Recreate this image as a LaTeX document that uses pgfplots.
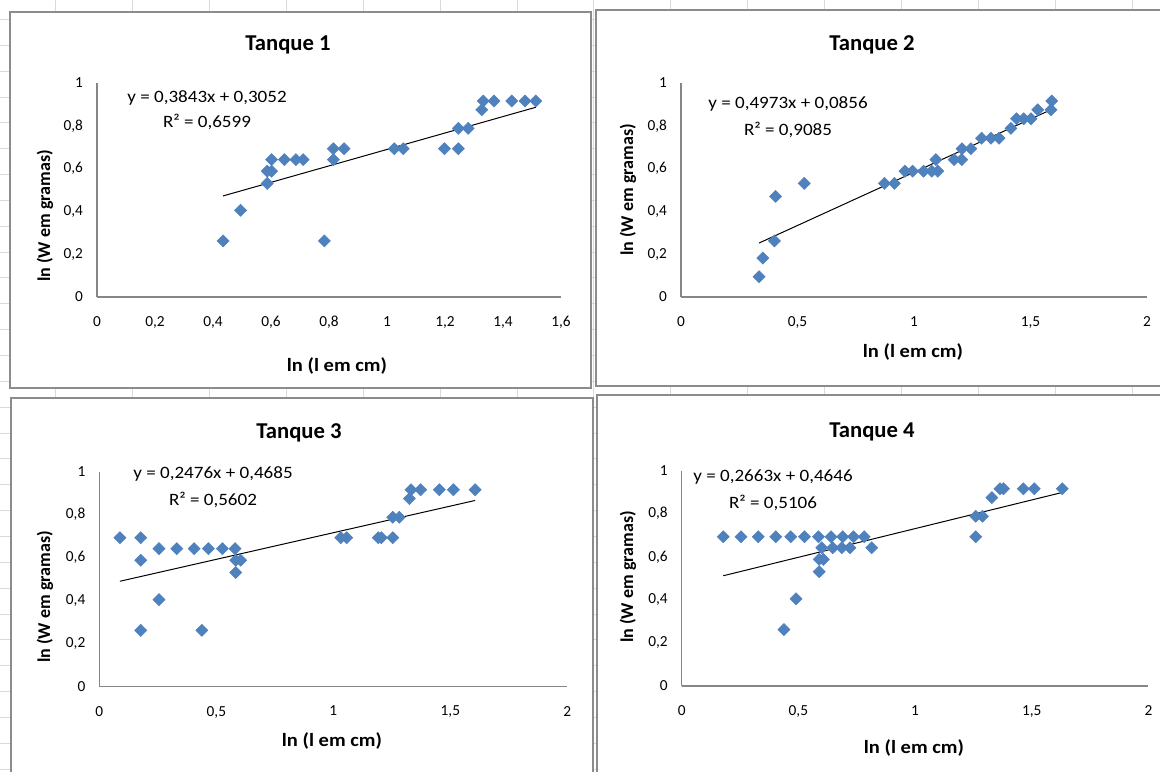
\documentclass[border=0pt]{standalone}
\usepackage{fontspec}
\setmainfont{Carlito}
\usepackage{pgfplots}
\pgfplotsset{compat=1.18}
\definecolor{ptblue}{HTML}{4F81BD}
\definecolor{axgray}{HTML}{868686}
\definecolor{framegray}{HTML}{8C8C8C}
\definecolor{cellgray}{HTML}{DADADA}

\pgfplotsset{
  tanque/.style={
    scale only axis,
    anchor=south west,
    xmin=0, ymin=0, ymax=1,
    ytick={0,0.2,0.4,0.6,0.8,1},
    axis x line*=bottom,
    axis y line*=left,
    axis line style={draw=axgray, line width=0.8pt, -},
    major tick length=0pt,
    tick label style={font=\fontsize{11.5}{13}\selectfont},
    xticklabel style={yshift=-11pt},
    yticklabel style={xshift=-7pt},
    /pgf/number format/use comma,
    /pgf/number format/assume math mode=true,
    clip=false,
  },
  pontos/.style={only marks, mark=square*, mark size=3.2pt,
    mark options={rotate=45, fill=ptblue, draw=ptblue}},
  tendencia/.style={black, line width=0.75pt, no marks},
}
\newcommand{\titulo}{\fontsize{17}{20}\selectfont\bfseries}
\newcommand{\rotulo}{\fontsize{14}{16}\selectfont\bfseries}
\newcommand{\rotuloy}{\fontsize{13.5}{16}\selectfont\bfseries}
\newcommand{\eq}{\fontsize{13}{15}\selectfont}

\begin{document}
\begin{tikzpicture}
\begin{scope}[x=0.75pt,y=-0.75pt]
\useasboundingbox (0,0) rectangle (1160,771);
\foreach \gx in {55.5,132.4,...,1160} \draw[cellgray, line width=0.5pt] (\gx,0) -- (\gx,771);
\foreach \gy in {19.3,45.15,...,771} \draw[cellgray, line width=0.5pt] (0,\gy) -- (1160,\gy);
\filldraw[fill=white, draw=framegray, line width=1.2pt] (10,12) rectangle (591,388);
\filldraw[fill=white, draw=framegray, line width=1.2pt] (596,10) rectangle (1165,386);
\filldraw[fill=white, draw=framegray, line width=1.2pt] (11,398) rectangle (593,776);
\filldraw[fill=white, draw=framegray, line width=1.2pt] (597,395) rectangle (1165,776);
\end{scope}

% Tanque 1
\begin{axis}[tanque, at={(72.75pt,-222.75pt)}, width=348pt, height=160.5pt,
  xmax=1.6, xtick={0,0.2,0.4,0.6,0.8,1,1.2,1.4,1.6}]
\addplot[pontos] coordinates {
 (0.435,0.262) (0.495,0.405) (0.587,0.531) (0.587,0.588) (0.602,0.588)
 (0.602,0.642) (0.646,0.642) (0.686,0.642) (0.711,0.642) (0.784,0.262)
 (0.815,0.642) (0.815,0.693) (0.852,0.693) (1.025,0.693) (1.056,0.693)
 (1.198,0.693) (1.246,0.693) (1.246,0.788) (1.280,0.788) (1.327,0.875)
 (1.332,0.916) (1.369,0.916) (1.430,0.916) (1.476,0.916) (1.513,0.916)
};
\addplot[tendencia] coordinates {(0.435,0.4724) (1.513,0.8866)};
\end{axis}

% Tanque 2
\begin{axis}[tanque, at={(510.75pt,-222.75pt)}, width=349.5pt, height=160.5pt,
  xmax=2, xtick={0,0.5,1,1.5,2}]
\addplot[pontos] coordinates {
 (0.335,0.095) (0.351,0.182) (0.401,0.262) (0.406,0.470) (0.529,0.531)
 (0.873,0.531) (0.916,0.531) (0.961,0.588) (0.994,0.588) (1.041,0.588)
 (1.076,0.588) (1.102,0.588) (1.094,0.642) (1.172,0.642) (1.205,0.642)
 (1.206,0.693) (1.244,0.693) (1.290,0.742) (1.330,0.742) (1.365,0.742)
 (1.416,0.788) (1.440,0.833) (1.471,0.833) (1.502,0.833) (1.531,0.875)
 (1.588,0.875) (1.591,0.916)
};
\addplot[tendencia] coordinates {(0.335,0.2522) (1.595,0.8788)};
\end{axis}

% Tanque 3
\begin{axis}[tanque, at={(74.5pt,-515pt)}, width=351pt, height=161.25pt,
  xmax=2, xtick={0,0.5,1,1.5,2}]
\addplot[pontos] coordinates {
 (0.088,0.693) (0.177,0.693) (0.177,0.588) (0.177,0.262) (0.255,0.642)
 (0.255,0.405) (0.331,0.642) (0.405,0.642) (0.438,0.262) (0.466,0.642)
 (0.526,0.642) (0.580,0.642) (0.583,0.588) (0.604,0.588) (0.583,0.531)
 (1.032,0.693) (1.057,0.693) (1.192,0.693) (1.205,0.693) (1.254,0.693)
 (1.254,0.788) (1.282,0.788) (1.325,0.875) (1.332,0.916) (1.373,0.916)
 (1.453,0.916) (1.513,0.916) (1.606,0.916)
};
\addplot[tendencia] coordinates {(0.088,0.4903) (1.606,0.8661)};
\end{axis}

% Tanque 4
\begin{axis}[tanque, at={(511.3pt,-514.5pt)}, width=350pt, height=161.5pt,
  xmax=2, xtick={0,0.5,1,1.5,2}]
\addplot[pontos] coordinates {
 (0.178,0.693) (0.254,0.693) (0.328,0.693) (0.403,0.693) (0.467,0.693)
 (0.526,0.693) (0.586,0.693) (0.640,0.693) (0.690,0.693) (0.736,0.693)
 (0.782,0.693) (0.438,0.262) (0.490,0.405) (0.589,0.531) (0.589,0.588)
 (0.607,0.588) (0.600,0.642) (0.647,0.642) (0.686,0.642) (0.721,0.642)
 (0.814,0.642) (1.260,0.693) (1.260,0.788) (1.289,0.788) (1.329,0.875)
 (1.364,0.916) (1.379,0.916) (1.464,0.916) (1.511,0.916) (1.631,0.916)
};
\addplot[tendencia] coordinates {(0.178,0.5120) (1.631,0.8989)};
\end{axis}

\begin{scope}[x=0.75pt,y=-0.75pt]
\node[font=\titulo] at (288,45) {Tanque 1};
\node[font=\titulo] at (872,45) {Tanque 2};
\node[font=\titulo] at (299,433) {Tanque 3};
\node[font=\titulo] at (872,432) {Tanque 4};
\node[font=\rotulo, xscale=1.1] at (337,366) {ln (l em cm)};
\node[font=\rotulo, xscale=1.1] at (913,352) {ln (l em cm)};
\node[font=\rotulo, xscale=1.1] at (332,741) {ln (l em cm)};
\node[font=\rotulo, xscale=1.1] at (914,748) {ln (l em cm)};
\node[font=\rotuloy, rotate=90] at (45,216) {ln (W em gramas)};
\node[font=\rotuloy, rotate=90] at (628,190) {ln (W em gramas)};
\node[font=\rotuloy, rotate=90] at (45,597) {ln (W em gramas)};
\node[font=\rotuloy, rotate=90] at (628,577) {ln (W em gramas)};
\node[font=\eq, xscale=1.1] at (207,98) {y = 0,3843x + 0,3052};
\node[font=\eq, xscale=1.1] at (207,122) {R² = 0,6599};
\node[font=\eq, xscale=1.1] at (788,104) {y = 0,4973x + 0,0856};
\node[font=\eq, xscale=1.1] at (788,130) {R² = 0,9085};
\node[font=\eq, xscale=1.1] at (213,474) {y = 0,2476x + 0,4685};
\node[font=\eq, xscale=1.1] at (213,500) {R² = 0,5602};
\node[font=\eq, xscale=1.1] at (773,477) {y = 0,2663x + 0,4646};
\node[font=\eq, xscale=1.1] at (773,503) {R² = 0,5106};
\end{scope}
\end{tikzpicture}
\end{document}
